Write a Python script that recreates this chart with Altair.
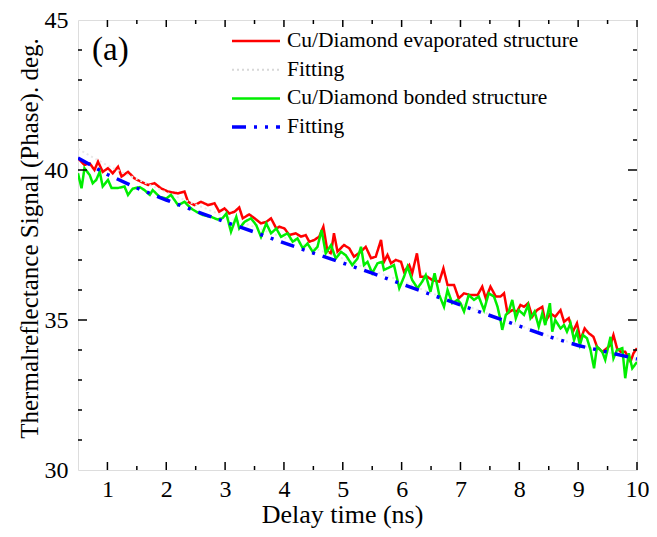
import altair as alt
import pandas as pd

# ---- data ----
red_x = [0.50, 0.61, 0.70, 0.78, 0.84, 0.92, 1.01, 1.09, 1.18, 1.24, 1.35, 1.46, 1.57, 1.69, 1.80, 1.91,
         2.03, 2.20, 2.31, 2.37, 2.48, 2.59, 2.71, 2.82, 2.90, 2.99, 3.07, 3.16, 3.24, 3.30, 3.41, 3.50,
         3.61, 3.70, 3.78, 3.87, 3.92, 4.01, 4.09, 4.20, 4.29, 4.37, 4.43, 4.51, 4.60, 4.67, 4.74, 4.80,
         4.85, 4.91, 5.02, 5.11, 5.19, 5.31, 5.39, 5.48, 5.56, 5.65, 5.70, 5.76, 5.82, 5.90, 5.99, 6.04,
         6.13, 6.18, 6.26, 6.32, 6.44, 6.52, 6.64, 6.71, 6.78, 6.89, 6.97, 7.06, 7.17, 7.29, 7.37, 7.43,
         7.51, 7.60, 7.68, 7.74, 7.80, 7.88, 7.96, 8.02, 8.08, 8.15, 8.22, 8.30, 8.39, 8.44, 8.53, 8.61,
         8.70, 8.76, 8.84, 8.91, 8.98, 9.04, 9.11, 9.18, 9.26, 9.32, 9.41, 9.49, 9.55, 9.60, 9.66, 9.72,
         9.80, 9.89, 9.94, 10.00]
red_y = [40.39, 40.17, 40.22, 40.00, 40.28, 39.94, 40.06, 39.89, 40.11, 39.78, 39.94, 39.72, 39.61, 39.50, 39.56, 39.39,
         39.28, 39.22, 39.28, 38.94, 38.83, 38.94, 38.83, 38.89, 38.61, 38.72, 38.55, 38.61, 38.75, 38.39, 38.52, 38.39,
         38.22, 38.27, 38.39, 38.05, 38.11, 38.05, 37.83, 37.89, 37.78, 37.83, 37.61, 37.66, 37.78, 38.11, 37.28, 37.22,
         37.89, 37.28, 37.50, 37.39, 37.11, 37.28, 37.44, 37.06, 37.11, 37.67, 36.94, 37.17, 36.89, 37.00, 36.94, 36.61,
         36.83, 36.56, 37.22, 36.44, 36.44, 36.33, 36.28, 36.72, 36.17, 36.17, 35.72, 35.89, 35.83, 35.83, 36.11, 35.72,
         36.11, 35.78, 35.78, 35.89, 35.22, 35.33, 35.28, 35.50, 35.44, 35.56, 35.11, 35.33, 35.44, 34.94, 35.22, 35.11,
         35.33, 34.94, 35.06, 34.61, 34.89, 34.33, 34.72, 34.56, 34.44, 34.11, 33.94, 34.06, 34.17, 34.50, 34.06, 33.94,
         33.94, 33.61, 33.89, 34.06]

green_x = [0.50, 0.56, 0.61, 0.70, 0.75, 0.81, 0.87, 0.92, 1.01, 1.07, 1.18, 1.29, 1.35, 1.43, 1.55, 1.63,
           1.72, 1.77, 1.89, 2.00, 2.08, 2.20, 2.31, 2.42, 2.51, 2.62, 2.76, 2.87, 2.96, 3.02, 3.10, 3.19,
           3.24, 3.33, 3.44, 3.53, 3.61, 3.70, 3.78, 3.87, 3.95, 4.06, 4.15, 4.23, 4.32, 4.40, 4.49, 4.57,
           4.64, 4.71, 4.80, 4.88, 4.97, 5.05, 5.16, 5.25, 5.31, 5.36, 5.42, 5.50, 5.59, 5.67, 5.70, 5.82,
           5.87, 5.96, 6.04, 6.10, 6.18, 6.27, 6.35, 6.41, 6.49, 6.56, 6.64, 6.72, 6.78, 6.86, 6.95, 7.00,
           7.06, 7.14, 7.23, 7.31, 7.40, 7.48, 7.57, 7.63, 7.68, 7.71, 7.77, 7.82, 7.88, 7.94, 7.99, 8.08,
           8.15, 8.19, 8.26, 8.33, 8.39, 8.44, 8.52, 8.56, 8.61, 8.70, 8.76, 8.81, 8.87, 8.93, 8.98, 9.03,
           9.08, 9.15, 9.21, 9.27, 9.32, 9.41, 9.46, 9.55, 9.60, 9.66, 9.75, 9.80, 9.86, 9.92, 10.00]
green_y = [39.89, 39.39, 40.06, 39.83, 39.56, 39.67, 39.94, 39.45, 39.67, 39.40, 39.40, 39.45, 39.17, 39.38, 39.43, 39.33,
           39.17, 39.33, 39.10, 39.05, 39.17, 38.83, 38.94, 38.72, 38.61, 38.50, 38.44, 38.35, 38.40, 38.55, 37.94, 38.44,
           38.05, 38.27, 38.39, 38.16, 37.77, 38.22, 37.89, 38.05, 37.77, 37.89, 37.61, 37.72, 37.39, 37.55, 37.27, 37.44,
           38.00, 37.22, 37.50, 37.05, 37.27, 37.16, 36.83, 37.05, 37.44, 36.83, 36.94, 36.56, 36.89, 36.94, 36.67, 36.78,
           36.83, 36.06, 36.44, 36.78, 36.33, 36.06, 36.28, 36.50, 35.94, 36.56, 35.83, 35.44, 36.00, 35.56, 35.67, 35.56,
           35.28, 35.83, 35.67, 35.78, 35.33, 35.89, 35.78, 35.44, 35.00, 34.67, 35.17, 35.28, 35.67, 35.06, 35.33, 35.17,
           35.50, 35.06, 35.28, 34.78, 35.22, 34.83, 35.56, 34.61, 35.00, 34.72, 34.83, 34.61, 34.89, 34.33, 34.61, 34.17,
           34.50, 34.39, 34.00, 33.39, 34.11, 33.94, 33.67, 34.44, 33.72, 34.00, 34.06, 33.06, 33.89, 33.39, 33.60]

fit_x = [0.5, 1.0, 1.5, 2.0, 2.5, 3.0, 3.5, 4.0, 4.5, 5.0, 5.5, 6.0, 6.5, 7.0, 7.5, 8.0, 8.5, 9.0, 9.5, 10.0]
fit_bonded_y = [40.40, 39.85, 39.40, 39.00, 38.63, 38.27, 37.93, 37.57, 37.23, 36.90, 36.56, 36.20, 35.85, 35.50,
                35.15, 34.80, 34.45, 34.15, 33.93, 33.70]
fit_evap_y = [40.70, 40.15, 39.70, 39.25, 38.85, 38.45, 38.10, 37.75, 37.40, 37.05, 36.65, 36.30, 35.90, 35.55,
              35.18, 34.82, 34.47, 34.17, 33.93, 33.70]

series_keys = ["evap", "fit1", "bond", "fit2"]
series_labels = ["Cu/Diamond evaporated structure", "Fitting", "Cu/Diamond bonded structure", "Fitting"]
series_colors = ["#ff0000", "#e8e8e8", "#00ee00", "#0000ff"]
series_dash = [[1, 0], [2, 3], [1, 0], [14, 8, 3, 8, 3, 8]]
series_width = [2.5, 2, 2.5, 3.5]

x_major = [1, 2, 3, 4, 5, 6, 7, 8, 9, 10]
x_minor = [1.5, 2.5, 3.5, 4.5, 5.5, 6.5, 7.5, 8.5, 9.5]
y_labels = [30, 35, 40, 45]
y_major = [35, 40]
y_minor = [31, 32, 33, 34, 36, 37, 38, 39, 41, 42, 43, 44]

# ---- build tables ----
series_data = [(red_x, red_y), (fit_x, fit_evap_y), (green_x, green_y), (fit_x, fit_bonded_y)]

W, H = 559, 450
FONT = "Times New Roman, Liberation Serif, DejaVu Serif, serif"

xscale = alt.Scale(domain=[0.5, 10], nice=False, zero=False)
yscale = alt.Scale(domain=[30, 45], nice=False, zero=False)

x_axis = alt.Axis(values=x_major, format="d", title="Delay time (ns)", grid=False, ticks=False,
                  domain=False, labelFont=FONT, labelFontSize=24, labelColor="black",
                  labelPadding=7, titleFont=FONT, titleFontSize=26, titleFontWeight="normal",
                  titleColor="black", titlePadding=0, titleX=264, labelFlush=False)
y_axis = alt.Axis(values=y_labels, format="d", title="Thermalreflectance Signal (Phase). deg.",
                  grid=False, ticks=False, domain=False, labelFont=FONT, labelFontSize=24,
                  labelColor="black", labelPadding=10, titleFont=FONT, titleFontSize=25,
                  titleFontWeight="normal", titleColor="black", titlePadding=2, titleY=218,
                  labelFlush=False)

layers = []
for i, (xs, ys) in enumerate(series_data):
    df = pd.DataFrame({"x": xs, "y": ys})
    layers.append(
        alt.Chart(df).mark_line(
            clip=True, color=series_colors[i], strokeDash=series_dash[i], strokeWidth=series_width[i]
        ).encode(
            x=alt.X("x:Q", scale=xscale, axis=x_axis),
            y=alt.Y("y:Q", scale=yscale, axis=y_axis),
        )
    )

def tick_layer(values, orient, length):
    df = pd.DataFrame({"v": values})
    base = alt.Chart(df).mark_rule(color="black", strokeWidth=1.5)
    if orient == "bottom":
        return base.encode(x=alt.X("v:Q", scale=xscale), y=alt.value(H), y2=alt.value(H - length))
    if orient == "top":
        return base.encode(x=alt.X("v:Q", scale=xscale), y=alt.value(0), y2=alt.value(length))
    if orient == "left":
        return base.encode(y=alt.Y("v:Q", scale=yscale), x=alt.value(0), x2=alt.value(length))
    return base.encode(y=alt.Y("v:Q", scale=yscale), x=alt.value(W), x2=alt.value(W - length))

ticks = [
    tick_layer(x_major, "bottom", 8), tick_layer(x_minor, "bottom", 4),
    tick_layer(x_major, "top", 7), tick_layer(x_minor, "top", 4),
    tick_layer(y_major, "left", 9), tick_layer(y_minor, "left", 4),
    tick_layer(y_major, "right", 9), tick_layer(y_minor, "right", 4),
]

# ---- legend (drawn by hand, in the plot's top right) ----
LEG_X0, LEG_X1, LEG_TX = 154, 202, 209
LEG_Y0, LEG_DY = 21, 28.7
legend_layers = []
for i, lab in enumerate(series_labels):
    yy = LEG_Y0 + i * LEG_DY
    one = pd.DataFrame({"t": [lab]})
    legend_layers.append(
        alt.Chart(one).mark_rule(
            color=series_colors[i] if i != 1 else "#d8d8d8", strokeDash=series_dash[i],
            strokeWidth=series_width[i]
        ).encode(x=alt.value(LEG_X0), x2=alt.value(LEG_X1), y=alt.value(yy))
    )
    legend_layers.append(
        alt.Chart(one).mark_text(
            font=FONT, fontSize=21.5, align="left", baseline="middle", color="black"
        ).encode(text="t:N", x=alt.value(LEG_TX), y=alt.value(yy))
    )

panel_label = alt.Chart(pd.DataFrame({"t": ["(a)"]})).mark_text(
    font=FONT, fontSize=33, align="left", baseline="middle", color="black"
).encode(text="t:N", x=alt.value(14), y=alt.value(30))

chart = alt.layer(*layers, *ticks, *legend_layers, panel_label).properties(
    width=W, height=H,
    autosize=alt.AutoSizeParams(type="none"),
    padding={"left": 70, "top": 12, "right": 12, "bottom": 59},
).configure_view(stroke="black", strokeWidth=2).configure(background="white")

chart.save("out.html", embed_options={"renderer": "svg", "actions": False})
